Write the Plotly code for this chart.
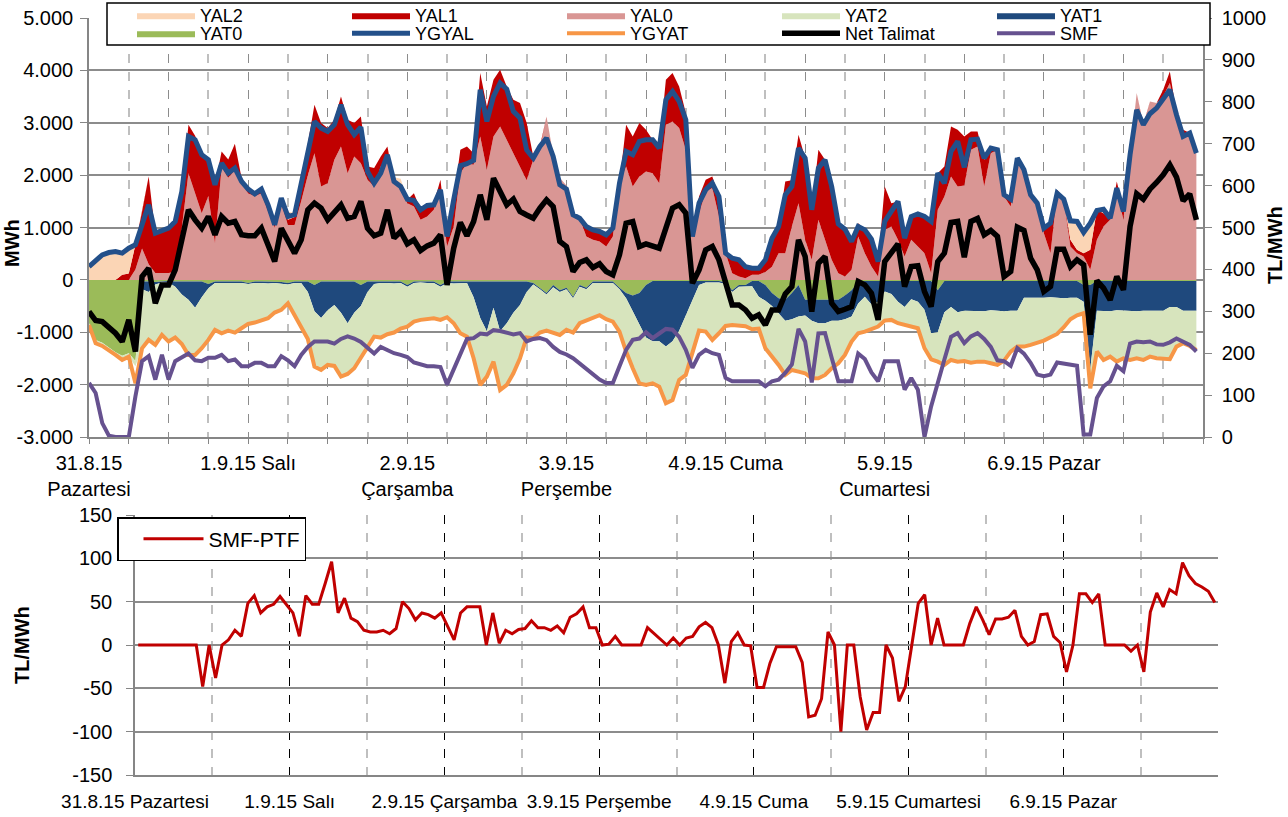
import plotly.graph_objects as go

W, H = 1288, 817
FONT = "Arial, Liberation Sans, sans-serif"

hours = list(range(168))

day_labels_top = ["31.8.15<br>Pazartesi", "1.9.15 Salı", "2.9.15<br>Çarşamba", "3.9.15<br>Perşembe",
                  "4.9.15 Cuma", "5.9.15<br>Cumartesi", "6.9.15 Pazar"]
day_labels_bottom = ["31.8.15 Pazartesi", "1.9.15 Salı", "2.9.15 Çarşamba", "3.9.15 Perşembe",
                     "4.9.15 Cuma", "5.9.15 Cumartesi", "6.9.15 Pazar"]

left_ticks = [-3000, -2000, -1000, 0, 1000, 2000, 3000, 4000, 5000]
left_ticktext = ["-3.000", "-2.000", "-1.000", "0", "1.000", "2.000", "3.000", "4.000", "5.000"]
right_ticks = [0, 100, 200, 300, 400, 500, 600, 700, 800, 900, 1000]
right_ticktext = ["0", "100", "200", "300", "400", "500", "600", "700", "800", "900", "1000"]
bottom_ticks = [-150, -100, -50, 0, 50, 100, 150]
bottom_ticktext = ["-150", "-100", "-50", "0", "50", "100", "150"]

# ---- hourly series (MWh) ----
yal0 = [0, 0, 0, 0, 0, 0, 0, 200, 600, 300,
        130, 130, 130, 150, 1000, 2038, 1656, 1274, 1600, 700,
        2150, 1950, 2100, 1850, 1650, 1600, 1650, 1300, 1000, 1450,
        1050, 1050, 1500, 2000,
        2420, 1783, 1847, 2293, 2548, 2038, 2357, 2229, 1911, 1783,
        2166, 2293, 1847, 1750, 1465, 1401, 1146, 1210, 1338, 1700,
        637, 1019, 2038, 2229, 2200, 2739, 2102, 2739, 2930, 2675,
        2420, 2166, 1900,
        2293, 2500, 3121, 2400, 1950, 1800, 1242, 1178, 830, 764,
        732, 637, 828, 1847, 2166, 1783, 1975, 2070, 2038, 1847,
        2962, 3025, 2898, 2484, 800, 1274, 1688, 1752, 1210, 510,
        127, 64, 32,
        100, 100, 150, 250, 510, 510, 1019, 1465, 764, 382,
        1146, 764, 382, 127, 64, 191, 828, 510, 255, 64,
        955, 1019, 764, 446, 764, 637, 510, 127, 1338, 1592,
        1975, 1783, 1800,
        2484, 2548, 1783, 2420, 2484, 1592, 1401, 2300, 2100, 1620,
        1465, 892, 510, 1650, 1529, 637, 510, 446, 191, 764,
        1019, 1146, 1700, 1146, 2389, 3567, 2930, 3408, 3376, 3503,
        3758, 3185, 2803, 2803, 2420]

yal1 = [0, 0, 0, 0, 0, 100, 120, 469, 700, 1675,
        762, 813, 857, 965, 688, 924, 1094, 1176, 693, 1115,
        300, 350, 500, 100, 110, 60, 130, 150, 50, 50,
        100, 150, 300, 600,
        924, 1211, 1051, 764, 955, 1019, 637, 892, 255, 351,
        191, 255, 64, 30, 64, 255, 192, 223, 127, 211,
        191, 510, 446, 319, 220, 1210, 1210, 1083, 1083, 1019,
        1019, 1210, 1100,
        64, 50, 0, 0, 0, 0, 0, 0, 189, 191,
        192, 223, 159, 0, 796, 956, 1019, 796, 637, 669,
        860, 924, 796, 701, 30, 318, 223, 223, 382, 63,
        287, 318, 220,
        123, 123, 232, 546, 509, 1369, 881, 1306, 1561, 956,
        1338, 1529, 1401, 943, 904, 541, 255, 445, 522, 286,
        828, 446, 733, 350, 446, 624, 700, 988, 700, 574,
        955, 1083, 939,
        350, 286, 510, 128, 0, 32, 200, 30, 0, 0,
        0, 95, 573, 70, 20, 127, 63, 60, 382, 574,
        255, 32, 179, 192, 0, 0, 30, 0, 0, 128,
        222, 0, 63, 0, 0]

yal2 = [255, 382, 478, 522, 541, 410, 485, 0, 0, 0,
        0, 0, 0, 0, 0, 0, 0, 0, 0, 0,
        0, 0, 0, 0, 0, 0, 0, 0, 0, 60,
        150, 80, 0, 0,
        0, 0, 0, 0, 0, 0, 0, 0, 0, 0,
        0, 0, 50, 150, 0, 0, 0, 0, 0, 0,
        0, 0, 0, 0, 0, 0, 0, 0, 0, 0,
        0, 0, 0,
        0, 0, 0, 0, 0, 0, 0, 0, 0, 0,
        0, 0, 0, 0, 0, 0, 0, 0, 0, 0,
        0, 0, 0, 0, 0, 0, 0, 0, 0, 0,
        0, 0, 0,
        0, 0, 0, 0, 0, 0, 0, 0, 0, 0,
        0, 0, 0, 0, 0, 0, 0, 0, 0, 0,
        0, 0, 0, 0, 0, 0, 0, 0, 0, 0,
        0, 0, 0,
        0, 0, 0, 0, 0, 0, 0, 0, 0, 0,
        0, 0, 0, 0, 0, 363, 542, 398, 510, 0,
        76, 0, 0, 0, 0, 0, 0, 0, 0, 0,
        0, 0, 0, 0, 0]

yat0 = [-830, -1150, -1200, -1290, -1380, -1450, -1400, -1550, -30, -30,
        -40, -30, -20, -30, -30, -30, -30, -30, -80, -30,
        -30, -30, -30, -30, -60, -30, -30, -30, -30, -40,
        -60, -30, -30, -30,
        -100, -30, -30, -30, -30, -30, -30, -100, -30, -30,
        -30, -30, -30, -30, -100, -30, -30, -30, -30, -100,
        -30, -30, -30, -30, -30, -30, -30, -30, -30, -30,
        -30, -30, -30,
        -60, -150, -250, -100, -200, -150, -320, -100, -150, -30,
        -30, -30, -30, -150, -250, -300, -250, -100, -20, -20,
        -20, -20, -20, -20, -20, -20, -20, -20, -20, -50,
        -200, -100, -100,
        -20, -20, -100, -250, -350, -380, -250, -100, -380, -380,
        -380, -380, -380, -380, -300, -200, -50, -20, -20, -20,
        -20, -20, -20, -20, -20, -20, -20, -20, -200, -20,
        -20, -20, -20,
        -20, -20, -20, -20, -20, -20, -20, -20, -20, -20,
        -20, -20, -20, -20, -20, -20, -20, -100, -100, -20,
        -20, -20, -20, -20, -20, -20, -20, -20, -20, -20,
        -20, -20, -20, -20, -20]

yat1 = [0, 0, 0, 0, 0, 0, 0, 0, -150, -200,
        -50, -20, -30, -100, -250, -350, -500, -300, -80, -30,
        -30, -40, -30, -30, -20, -30, -30, -40, -30, -30,
        -30, -30, -30, -200,
        -500, -700, -550, -450, -600, -800, -600, -400, -200, -50,
        -30, -30, -40, -30, -30, -30, -20, -30, -30, -30,
        -30, -40, -30, -30, -300, -700, -950, -500, -950, -800,
        -600, -450, -200,
        -30, -30, -30, -40, -30, -30, -30, -30, -30, -30,
        -30, -30, -30, -30, -100, -300, -600, -1000, -1150, -1150,
        -1250, -1150, -950, -650, -350, -80, -30, -30, -30, -30,
        -30, -30, -30,
        -100, -300, -300, -250, -300, -400, -500, -600, -300, -400,
        -450, -450, -400, -400, -450, -500, -400, -300, -450, -400,
        -200, -250, -400, -500, -350, -400, -550, -1000, -800, -600,
        -500, -600, -570,
        -570, -570, -580, -560, -570, -580, -570, -570, -320, -320,
        -330, -320, -310, -320, -330, -320, -320, -320, -1600, -570,
        -570, -580, -560, -570, -570, -580, -570, -570, -560, -570,
        -500, -500, -570, -570, -570]

yat2 = [-30, -60, -60, -50, -50, -80, -65, -100, -1100, -900,
        -1150, -1000, -1100, -960, -930, -1040, -890, -960, -970, -880,
        -950, -900, -940, -850, -740, -740, -690, -660, -550, -490,
        -350, -600, -800, -890,
        -1040, -970, -1030, -1150, -1200, -950, -1040, -980, -1030, -990,
        -1030, -960, -930, -860, -750, -720, -690, -680, -660, -620,
        -640, -750, -940, -1000, -1150, -1250, -850, -1010, -1100, -1150,
        -1130, -1000, -850,
        -1000, -810, -670, -870, -800, -760, -640, -680, -580, -640,
        -600, -680, -720, -790, -1000, -1060, -1100, -880, -780, -840,
        -1050, -1090, -910, -1110, -1000, -850, -920, -1070, -950, -780,
        -610, -720, -740,
        -800, -600, -880, -940, -950, -1000, -940, -1020, -1070, -1060,
        -1010, -950, -880, -790, -660, -460, -550, -650, -440, -450,
        -540, -480, -390, -330, -500, -490, -720, -480, -550, -1000,
        -1000, -940, -950,
        -970, -950, -950, -980, -1010, -930, -760, -670, -910, -880,
        -850, -800, -740, -680, -550, -400, -330, -210, -350, -760,
        -920, -860, -950, -890, -920, -890, -920, -860, -890, -890,
        -970, -740, -600, -660, -730]

ygyal = [255, 382, 478, 522, 541, 510, 605, 669, 1051, 1433,
         892, 943, 987, 1115, 1688, 2739, 2675, 2389, 2293, 1815,
         2229, 2038, 2134, 1879, 1732, 1643, 1732, 1433, 1051, 1561,
         1210, 1242, 1815, 2450,
         3025, 2898, 2834, 2962, 3344, 2962, 2771, 2917, 2070, 1847,
         2038, 2389, 1879, 1783, 1541, 1516, 1338, 1420, 1433, 1720,
         828, 1529, 2178, 2217, 2280, 3631, 3025, 3503, 3758, 3643,
         3217, 3089, 2480,
         2325, 2548, 2707, 2357, 1815, 1732, 1242, 1178, 1019, 955,
         924, 860, 987, 1847, 2452, 2389, 2643, 2675, 2675, 2516,
         3439, 3599, 3408, 3057, 828, 1465, 1720, 1847, 1592, 510,
         414, 382, 250,
         223, 223, 382, 796, 1019, 1624, 1783, 2516, 2325, 1338,
         2134, 2293, 1783, 1070, 968, 732, 1019, 955, 777, 350,
         1115, 1306, 1497, 796, 1210, 1261, 1210, 1115, 2038, 1847,
         2452, 2643, 2150,
         2675, 2688, 2325, 2516, 2484, 1624, 1541, 2325, 2102, 1624,
         1465, 987, 1083, 1656, 1541, 1127, 1115, 904, 1083, 1325,
         1350, 1178, 1752, 1306, 2389, 3248, 2962, 3172, 3280, 3471,
         3631, 3153, 2739, 2803, 2420]

ygyat = [-860, -1210, -1261, -1338, -1433, -1529, -1465, -1975, -1306, -1146,
         -1242, -1051, -1178, -1102, -1223, -1433, -1433, -1306, -1146, -955,
         -1019, -968, -1006, -924, -841, -815, -764, -732, -624, -573,
         -446, -669, -870, -1130,
         -1656, -1720, -1624, -1643, -1847, -1796, -1688, -1497, -1274, -1083,
         -1102, -1038, -1006, -930, -892, -796, -764, -752, -732, -764,
         -713, -828, -1019, -1083, -1497, -2006, -1847, -1561, -2102, -2006,
         -1783, -1497, -1100,
         -1115, -1006, -968, -1019, -1051, -955, -1006, -828, -777, -713,
         -675, -752, -796, -987, -1369, -1688, -1975, -2006, -1975, -2038,
         -2357, -2293, -1911, -1815, -1401, -968, -987, -1146, -1019, -879,
         -860, -866, -885,
         -943, -930, -1306, -1465, -1624, -1815, -1720, -1752, -1783, -1879,
         -1879, -1815, -1688, -1592, -1433, -1178, -1019, -987, -930, -892,
         -777, -764, -828, -860, -892, -924, -1306, -1516, -1561, -1624,
         -1529, -1561, -1550,
         -1580, -1561, -1561, -1592, -1624, -1541, -1369, -1274, -1274, -1242,
         -1210, -1159, -1096, -1032, -904, -752, -675, -637, -2070, -1369,
         -1529, -1465, -1561, -1497, -1529, -1497, -1529, -1465, -1497, -1497,
         -1516, -1274, -1210, -1261, -1338]

net_talimat = [-605, -777, -796, -892, -1019, -1178, -764, -1369, 64, 223,
               -446, -96, -96, 191, 764, 1338, 1146, 987, 1210, 860,
               1210, 1083, 1115, 860, 841, 841, 987, 637, 350, 987,
               764, 510, 764, 1338,
               1465, 1369, 1146, 1274, 1433, 1178, 1210, 1497, 987, 841,
               892, 1338, 796, 924, 688, 764, 561, 650, 701, 860,
               -96, 605, 1096, 841, 1115, 1624, 1146, 1943, 1656, 1433,
               1541, 1306, 1240,
               1178, 1369, 1529, 1401, 732, 637, 159, 331, 382, 236,
               306, 159, 96, 478, 1083, 1115, 637, 688, 650, 605,
               987, 1369, 1433, 1274, -64, 191, 573, 637, 382, -64,
               -478, -478, -573,
               -732, -669, -860, -573, -573, -268, -127, 764, 446, -605,
               318, 446, -446, -605, -561, -510, -32, -96, -255, -764,
               350, 510, 688, -127, 255, 268, -223, -510, 350, 510,
               1096, 1115, 430,
               1115, 1172, 860, 943, 828, 64, 159, 1006, 943, 414,
               191, -223, -127, 586, 586, 255, 382, 287, -1048, -13,
               -159, -382, 64, -191, 1019, 1643, 1541, 1732, 1860, 2006,
               2197, 1962, 1510, 1643, 1146]

# ---- hourly SMF (TL/MWh) ----
smf = [129, 105, 33, 3, 0, 0, 0, 97, 181, 193,
       137, 196, 137, 181, 189, 199, 183, 181, 189, 189,
       196, 181, 185, 169, 169, 177, 177, 169, 169, 193,
       183, 169, 196, 215,
       228, 228, 228, 223, 234, 240, 235, 227, 212, 199,
       215, 207, 200, 196, 191, 178, 173, 169, 169, 167,
       125, 161, 202, 234, 236, 247, 245, 255, 253, 248,
       245, 248, 228,
       234, 236, 231, 215, 203, 197, 188, 175, 162, 150,
       137, 129, 129, 169, 208, 232, 235, 250, 236, 247,
       258, 256, 239, 208, 165, 196, 208, 200, 196, 141,
       133, 133, 133,
       133, 133, 121, 133, 137, 153, 173, 258, 228, 130,
       247, 248, 189, 133, 133, 133, 199, 186, 154, 133,
       181, 181, 181, 113, 141, 113, 0, 73, 133, 185,
       239, 248, 224,
       240, 248, 234, 215, 183, 181, 170, 212, 199, 177,
       149, 145, 149, 178, 175, 173, 170, 6, 6, 93,
       121, 133, 170, 157, 223, 228, 226, 228, 221, 220,
       226, 235, 228, 220, 204]

# ---- hourly SMF-PTF (TL/MWh) ----
smf_ptf = [0, 0, 0, 0, 0, 0, 0, 0, 0, 0,
           -48, 0, -38, 0, 6, 17, 10, 48, 57, 37,
           44, 47, 56, 47, 37, 10, 57, 47, 47, 71,
           96, 37, 54, 31, 27, 17, 15, 15, 17, 13,
           19, 50, 42, 29, 37, 35, 31, 37, 21, 6,
           37, 44, 44, 44, 0, 37, 2,
           17, 13, 18, 19, 28, 20, 20, 17, 22, 14,
           32, 36, 44, 20, 20, 0, 1, 10, 0, 0,
           0, 0, 20, 13, 6, 0, 8, 0, 8, 10,
           21, 26, 20, 0, -44, 4, 14, 0, -1, -49,
           -49, -21, -2, -2, -2, -2, -20, -83, -81, -62,
           15, 0, -100, 0, 0,
           -60, -98, -78, -78, 0, -15, -65, -48, 0, 48,
           58, 0, 31, 0, 0, 0, 0, 25, 44, 29,
           12, 30, 30, 32, 40, 10, 0, 4, 35, 36,
           10, 3, -31, 0, 59, 59, 49, 59, 0, 0,
           0, 0, -7, 0, -31, 38, 60, 44, 64, 59,
           95, 80, 71, 67, 62, 49]

for nm, arr in [("yal0", yal0), ("yal1", yal1), ("yal2", yal2), ("yat0", yat0), ("yat1", yat1),
                ("yat2", yat2), ("ygyal", ygyal), ("ygyat", ygyat), ("net", net_talimat),
                ("smf", smf), ("smf_ptf", smf_ptf)]:
    assert len(arr) == 168, (nm, len(arr))

# colours
C_YAL2 = "#FBD5B5"
C_YAL1 = "#C00000"
C_YAL0 = "#D99694"
C_YAT2 = "#D7E4BD"
C_YAT1 = "#1F497D"
C_YAT0 = "#9BBB59"
C_YGYAL = "#23508A"
C_YGYAT = "#F79646"
C_NET = "#000000"
C_SMF = "#66518F"

fig = go.Figure()


def area(name, y, color, group, rank, leg):
    fig.add_trace(go.Scatter(
        x=hours, y=y, name=name, mode="lines", stackgroup=group,
        line=dict(width=0, color=color), fillcolor=color,
        legendrank=rank, legend=leg, hoverinfo="skip",
        xaxis="x", yaxis="y"))


# legend row 1 -> "legend", row 2 -> "legend3"
area("YAL0", yal0, C_YAL0, "pos", 3, "legend")
area("YAL1", yal1, C_YAL1, "pos", 2, "legend")
area("YAL2", yal2, C_YAL2, "pos", 1, "legend")
area("YAT0", yat0, C_YAT0, "neg", 6, "legend3")
area("YAT1", yat1, C_YAT1, "neg", 5, "legend")
area("YAT2", yat2, C_YAT2, "neg", 4, "legend")


def line(name, y, color, width, rank, yaxis="y"):
    fig.add_trace(go.Scatter(
        x=hours, y=y, name=name, mode="lines",
        line=dict(width=width, color=color, shape="linear"),
        legendrank=rank, legend="legend3", hoverinfo="skip",
        xaxis="x", yaxis=yaxis))


line("YGYAL", ygyal, C_YGYAL, 5, 7)
line("YGYAT", ygyat, C_YGYAT, 4, 8)
line("Net Talimat", net_talimat, C_NET, 5.5, 9)
line("SMF", smf, C_SMF, 4, 10, yaxis="y2")

fig.add_trace(go.Scatter(
    x=hours, y=smf_ptf, name="SMF-PTF", mode="lines",
    line=dict(width=3, color="#C00000"), legend="legend2",
    hoverinfo="skip", xaxis="x2", yaxis="y3"))

# tick positions
top_major = list(range(0, 169, 12))
top_text = []
for v in top_major:
    if v % 24 == 0 and v // 24 < len(day_labels_top):
        top_text.append(day_labels_top[v // 24])
    else:
        top_text.append("")
top_minor = list(range(6, 168, 12))

bot_major = [d * 24 - 0.5 for d in range(8)]
bot_text = day_labels_bottom + [""]
bot_minor = [d * 24 + 11.5 for d in range(7)]

GRID_DARK = "#8C8C8C"
GRID_LIGHT = "#BFBFBF"
AXIS = "#868686"

row_legend = dict(
    orientation="h", x=107 / W, xanchor="left", yanchor="top",
    xref="paper", yref="paper",
    entrywidth=117, entrywidthmode="pixels", itemwidth=58, indentation=25,
    bgcolor="rgba(0,0,0,0)", borderwidth=0,
    font=dict(size=18, family=FONT), traceorder="normal", tracegroupgap=0,
)

fig.update_layout(
    width=W, height=H,
    margin=dict(l=0, r=0, t=0, b=0, autoexpand=False),
    paper_bgcolor="white", plot_bgcolor="white",
    font=dict(family=FONT, size=20, color="black"),
    showlegend=True,
    xaxis=dict(
        domain=[89 / W, 1203 / W], anchor="y", range=[0, 168], automargin=False,
        tickmode="array", tickvals=top_major, ticktext=top_text, tickangle=0,
        showgrid=True, gridcolor=GRID_DARK, griddash="dash", gridwidth=1,
        ticks="outside", ticklen=5, tickcolor=AXIS,
        showline=True, linecolor=AXIS, linewidth=1.5, zeroline=False,
        tickfont=dict(size=20), ticklabelstandoff=2,
        minor=dict(tickmode="array", tickvals=top_minor, showgrid=True,
                   gridcolor=GRID_LIGHT, gridwidth=1.5, ticks="outside",
                   ticklen=5, tickcolor=AXIS),
    ),
    yaxis=dict(
        domain=[1 - 437 / H, 1 - 18 / H], anchor="x", range=[-3000, 5000], automargin=False,
        tickmode="array", tickvals=left_ticks, ticktext=left_ticktext,
        showgrid=True, gridcolor=GRID_DARK, gridwidth=1.5, zeroline=False,
        showline=True, linecolor=AXIS, linewidth=1.5,
        ticks="outside", ticklen=7, tickcolor=AXIS,
        tickfont=dict(size=20), ticklabelstandoff=3,
    ),
    yaxis2=dict(
        overlaying="y", side="right", anchor="x", range=[0, 1000], automargin=False,
        tickmode="array", tickvals=right_ticks, ticktext=right_ticktext,
        showgrid=False, zeroline=False, showline=True, linecolor=AXIS, linewidth=1.5,
        ticks="outside", ticklen=7, tickcolor=AXIS,
        tickfont=dict(size=20), ticklabelstandoff=6,
    ),
    xaxis2=dict(
        domain=[135 / W, 1218 / W], anchor="y3", range=[-0.5, 167.5], automargin=False,
        tickmode="array", tickvals=bot_major, ticktext=bot_text, tickangle=0,
        showgrid=True, gridcolor="#000000", griddash="dash", gridwidth=1.2,
        ticks="", showline=True, linecolor=AXIS, linewidth=1.5, zeroline=False,
        tickfont=dict(size=19), ticklabelstandoff=8,
        minor=dict(tickmode="array", tickvals=bot_minor, showgrid=True,
                   gridcolor=GRID_LIGHT, gridwidth=1.5),
    ),
    yaxis3=dict(
        domain=[1 - 775 / H, 1 - 515 / H], anchor="x2", range=[-150, 150], automargin=False,
        tickmode="array", tickvals=bottom_ticks, ticktext=bottom_ticktext,
        showgrid=True, gridcolor=GRID_DARK, gridwidth=1.5, zeroline=False,
        showline=True, linecolor=AXIS, linewidth=1.5,
        ticks="outside", ticklen=7, tickcolor=AXIS,
        tickfont=dict(size=20), ticklabelstandoff=10,
    ),
    legend=dict(row_legend, y=1 + 3 / H),
    legend3=dict(row_legend, y=1 - 15 / H),
    legend2=dict(
        orientation="v", x=117 / W, y=1 - 517 / H, xanchor="left", yanchor="top",
        xref="paper", yref="paper", itemwidth=60, indentation=20,
        bgcolor="white", bordercolor="black", borderwidth=1.5,
        font=dict(size=21, family=FONT),
    ),
    shapes=[
        dict(type="rect", xref="paper", yref="paper",
             x0=107 / W, x1=1210 / W, y0=1 - 45 / H, y1=1 - 3 / H,
             line=dict(color="black", width=1.5), fillcolor="white", layer="above"),
    ],
    annotations=[
        dict(text="<b>MWh</b>", x=12 / W, y=1 - 243 / H, xref="paper", yref="paper",
             textangle=-90, showarrow=False, font=dict(size=20, family=FONT),
             xanchor="center", yanchor="middle"),
        dict(text="<b>TL/MWh</b>", x=1275 / W, y=1 - 245 / H, xref="paper", yref="paper",
             textangle=-90, showarrow=False, font=dict(size=20, family=FONT),
             xanchor="center", yanchor="middle"),
        dict(text="<b>TL/MWh</b>", x=22 / W, y=1 - 645 / H, xref="paper", yref="paper",
             textangle=-90, showarrow=False, font=dict(size=20, family=FONT),
             xanchor="center", yanchor="middle"),
    ],
)

fig.write_html("out.html",
               config={"displayModeBar": False},
               post_script="document.body.style.margin='0';document.body.style.padding='0';")
